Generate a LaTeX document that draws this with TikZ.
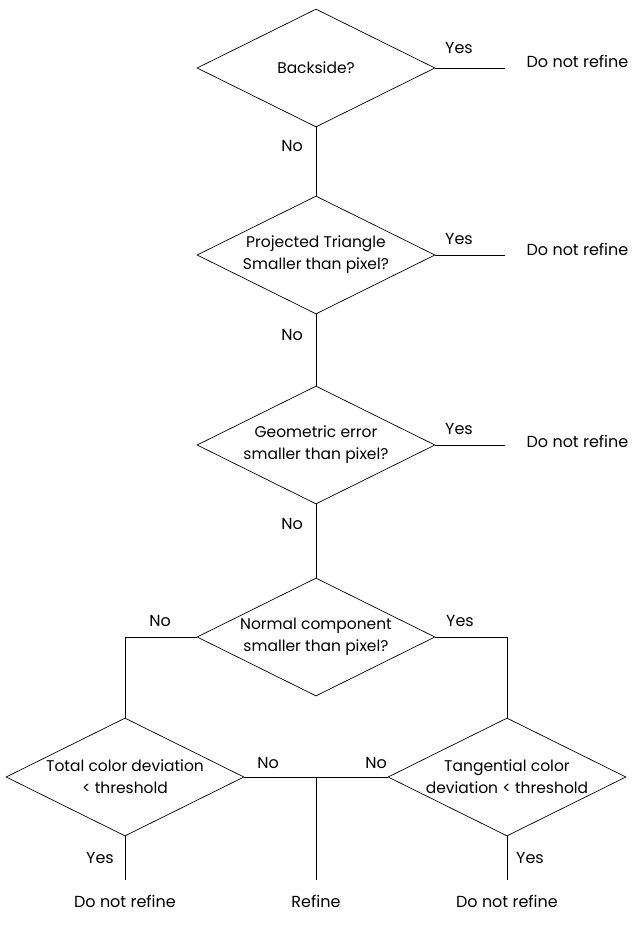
\documentclass[tikz,border=0pt]{standalone}
\usepackage{fontspec}
\setmainfont{Poppins}
\usetikzlibrary{shapes.geometric,positioning}

\tikzset{
  decision/.style={draw, diamond, aspect=2, inner xsep=-30pt, inner ysep=-6pt,
    minimum width=238pt, minimum height=118pt, align=center,
    font=\fontsize{15.5}{22}\selectfont},
  answer/.style={font=\fontsize{16}{19}\selectfont},
  branch/.style={font=\fontsize{16}{19}\selectfont},
}

\begin{document}
\begin{tikzpicture}[x=1pt,y=-1pt,line width=0.7pt]
\useasboundingbox (0,0) rectangle (632,938);

% the questions
\node[decision] (backside) at (316,68) {Backside?};
\node[decision] (triangle) at (316,255) {Projected Triangle\\Smaller than pixel?};
\node[decision] (geometric) at (316,445) {Geometric error\\smaller than pixel?};
\node[decision] (normal) at (316,637) {Normal component\\smaller than pixel?};
\node[decision] (total) at (125,777) {Total color deviation\\< threshold};
\node[decision] (tangential) at (507,777) {Tangential color\\deviation < threshold};

% the answers
\node[answer, anchor=west] (stop1) at (523,61) {Do not refine};
\node[answer, anchor=west] (stop2) at (523,249) {Do not refine};
\node[answer, anchor=west] (stop3) at (523,441) {Do not refine};
\node[answer] (stop4) at (125,901) {Do not refine};
\node[answer] (refine) at (316,901) {Refine};
\node[answer] (stop5) at (507,901) {Do not refine};

\coordinate (end1) at (505,68);
\coordinate (end2) at (505,255);
\coordinate (end3) at (505,445);
\coordinate (merge) at (316,777);
\coordinate (end4) at (125,880);
\coordinate (end5) at (316,880);
\coordinate (end6) at (507,880);

% connectors
\draw (backside.east) -- (end1);
\draw (triangle.east) -- (end2);
\draw (geometric.east) -- (end3);
\draw (backside.south) -- (triangle.north);
\draw (triangle.south) -- (geometric.north);
\draw (geometric.south) -- (normal.north);
\draw (normal.west) -| (total.north);
\draw (normal.east) -| (tangential.north);
\draw (total.east) -- (tangential.west);
\draw (merge) -- (end5);
\draw (total.south) -- (end4);
\draw (tangential.south) -- (end6);

% branch labels
\node[branch] (y1) at (459,48) {Yes};
\node[branch] (y2) at (459,239) {Yes};
\node[branch] (y3) at (459,429) {Yes};
\node[branch] (n1) at (292,146) {No};
\node[branch] (n2) at (292,335) {No};
\node[branch] (n3) at (292,524) {No};
\node[branch] (n4) at (160,621) {No};
\node[branch] (y4) at (460,621) {Yes};
\node[branch] (n5) at (268,763) {No};
\node[branch] (n6) at (376,763) {No};
\node[branch] (y5) at (100,858) {Yes};
\node[branch] (y6) at (530,858) {Yes};
\end{tikzpicture}
\end{document}
